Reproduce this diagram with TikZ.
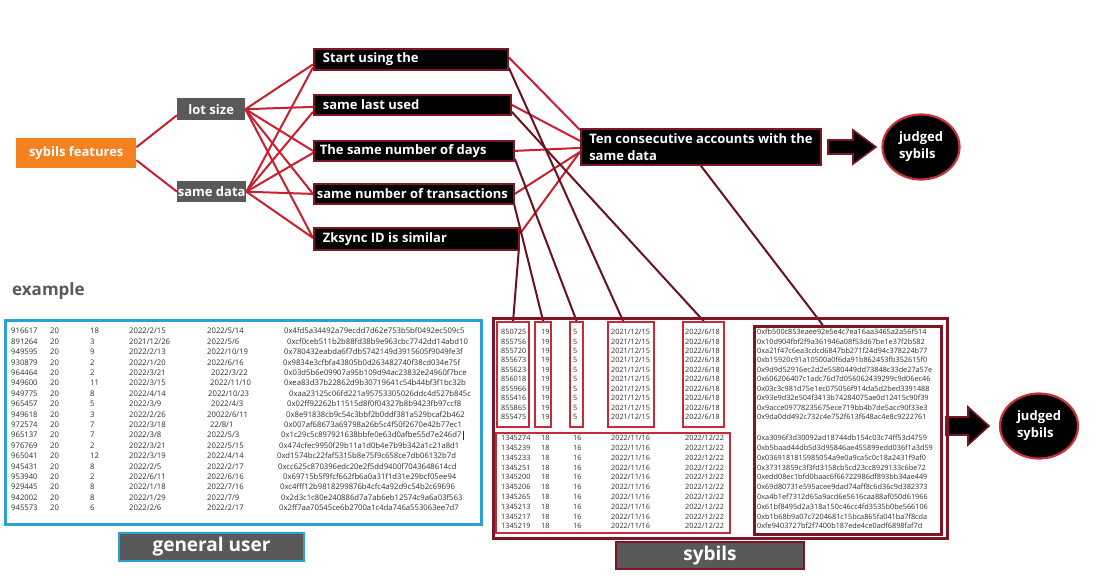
\documentclass[tikz,border=0pt]{standalone}
\usepackage{fontspec}
\setmainfont{Open Sans}
\usetikzlibrary{shapes.geometric}
\pgfdeclarelayer{back}
\pgfdeclarelayer{links}
\pgfsetlayers{back,links,main}
\definecolor{redline}{HTML}{C8202F}
\definecolor{darkline}{HTML}{6A1222}
\definecolor{boxred}{HTML}{7E1626}
\definecolor{subred}{HTML}{C42C3C}
\definecolor{circred}{HTML}{C8303C}
\definecolor{orangefill}{HTML}{F58220}
\definecolor{labgray}{HTML}{595959}
\definecolor{tblue}{HTML}{2CA0D8}
\definecolor{txtgray}{HTML}{2E2E2E}
\newcommand\lrow[8]{%
  \pgfmathsetmacro\yy{333.8+10.41*(#1-1)}%
  \node[ltxt] (la#1) at (11,\yy) {#2};
  \node[ltxt] (lb#1) at (50,\yy) {20};
  \node[ltxt] (lc#1) at (90,\yy) {#3};
  \node[ltxt] (ld#1) at (129,\yy) {#4};
  \node[ltxt] (le#1) at (#5,\yy) {#6};
  \node[ltxt] (lf#1) at (#7,\yy) {#8};
}
\newcommand\srow[8]{%
  \node[stxt] (sa#1) at (501,#2) {#3};
  \node[stxt] (sb#1) at (541,#2) {#4};
  \node[stxt] (sc#1) at (573,#2) {#5};
  \node[stxt] (sd#1) at (611,#2) {#6};
  \node[stxt] (se#1) at (685,#2) {#7};
  \node[stxt] (sf#1) at (757,#2) {#8};
}
\begin{document}
\begin{tikzpicture}[x=1pt,y=-1pt,
  lbl/.style={font=\bfseries\fontsize{13}{17}\selectfont, text=white},
  midbox/.style={lbl, fill=black, draw=boxred, line width=1.8pt, anchor=north west, inner xsep=9pt, inner ysep=0pt},
  graybox/.style={lbl, fill=labgray, anchor=north west, inner sep=0pt},
  judge/.style={lbl, ellipse, fill=black, draw=circred, line width=2.2pt, inner sep=0pt, align=left},
  ltxt/.style={font=\fontsize{7.7}{9}\selectfont, text=txtgray, anchor=base west, inner sep=0pt},
  stxt/.style={font=\fontsize{7.3}{9}\selectfont, text=txtgray, anchor=base west, inner sep=0pt},
  subbox/.style={draw=subred, line width=2.2pt, anchor=north west, inner sep=0pt},
  redl/.style={draw=redline, line width=2pt},
  darkl/.style={draw=darkline, line width=2pt},
  blockarrow/.style={fill=black, draw=boxred, line width=1.6pt, line join=miter}
]
\begin{pgfonlayer}{back}
  \fill[white] (0,0) rectangle (1107,579);
\end{pgfonlayer}
\useasboundingbox (0,0) rectangle (1107,579);

% ---------- top graph ----------
\node[graybox, fill=orangefill, minimum width=120pt, minimum height=30pt] (sf) at (16,138) {sybils features};
\node[graybox, minimum width=68pt, minimum height=22pt] (lot) at (177,98) {lot size};
\node[graybox, minimum width=69pt, minimum height=21pt] (same) at (177,181) {same data};

\node[midbox, minimum width=194pt, minimum height=21pt] (start) at (313,48) {\makebox[176pt][l]{Start using the}};
\node[midbox, minimum width=197pt, minimum height=20pt] (last) at (313,94) {\makebox[179pt][l]{same last used}};
\node[midbox, minimum width=200pt, minimum height=20pt, inner xsep=6pt] (days) at (313,140) {\makebox[188pt][l]{The same number of days}};
\node[midbox, minimum width=200pt, minimum height=20pt, inner xsep=3pt] (trans) at (313,183) {\makebox[194pt][l]{same number of transactions}};
\node[midbox, minimum width=205pt, minimum height=22pt] (zk) at (313,227) {\makebox[187pt][l]{Zksync ID is similar}};

\node[midbox, minimum width=240pt, minimum height=36pt, align=left, inner xsep=5pt] (ten) at (580,128) {Ten consecutive accounts with the\\same data};

\node[judge, minimum width=77pt, minimum height=65pt] (j1) at (921,147) {judged\\sybils};
\node[judge, minimum width=78pt, minimum height=65pt] (j2) at (1039,426) {judged\\sybils};

\filldraw[blockarrow] (828,140) -- (853,140) -- (853,130) -- (876,147) -- (853,164) -- (853,154) -- (828,154) -- cycle;
\filldraw[blockarrow] (946,417) -- (968,417) -- (968,407) -- (989,426) -- (968,445) -- (968,435) -- (946,435) -- cycle;

% ---------- example / general user table ----------
\node[font=\bfseries\fontsize{17}{20}\selectfont, text=labgray, anchor=base west, inner sep=0pt] (ex) at (12,295) {example};
\node[draw=tblue, line width=2.5pt, minimum width=476pt, minimum height=204pt, anchor=north west, inner sep=0pt] (gtab) at (4,319) {};

\lrow{1}{916617}{18}{2022/2/15}{207}{2022/5/14}{284}{0x4fd5a34492a79ecdd7d62e753b5bf0492ec509c5}
\lrow{2}{891264}{3}{2021/12/26}{207}{2022/5/6}{287}{0xcf0ceb511b2b88fd38b9e963cbc7742dd14abd10}
\lrow{3}{949595}{9}{2022/2/13}{207}{2022/10/19}{284}{0x780432eabda6f7db5742149d3915605f9049fe3f}
\lrow{4}{930879}{2}{2022/1/20}{207}{2022/6/16}{283}{0x9834e3cfbfa43805b0d263482740f38cd034e75f}
\lrow{5}{964464}{2}{2022/3/21}{211}{2022/3/22}{284}{0x03d5b6e09907a95b109d94ac23832e24960f7bce}
\lrow{6}{949600}{11}{2022/3/15}{210}{2022/11/10}{284}{0xea83d37b22862d9b30719641c54b44bf3f1bc32b}
\lrow{7}{949775}{8}{2022/4/14}{208}{2022/10/23}{289}{0xaa23125c06fd221a95753305026ddc4d527b845c}
\lrow{8}{965457}{5}{2022/3/9}{211}{2022/4/3}{287}{0x02ff92262b11515d8f0f04327b8b9423fb97ccf8}
\lrow{9}{949618}{3}{2022/2/26}{207}{20022/6/11}{286}{0x8e91838cb9c54c3bbf2b0ddf381a529bcaf2b462}
\lrow{10}{972574}{7}{2022/3/18}{210}{22/8/1}{284}{0x007af68673a69798a26b5c4f50f2670e42b77ec1}
\lrow{11}{965137}{7}{2022/3/8}{207}{2022/5/3}{281}{0x1c29c5c897921638bbfe0e63d0afbe55d7e246d7}
\lrow{12}{976769}{2}{2022/3/21}{207}{2022/5/15}{279}{0x474cfec9950f29b11a1d0b4e7b9b342a1c21a8d1}
\lrow{13}{965041}{12}{2022/3/19}{207}{2022/4/14}{277}{0xd1574bc22faf5315b8e75f9c658ce7db06132b7d}
\lrow{14}{945431}{8}{2022/2/5}{207}{2022/2/17}{278}{0xcc625c870396edc20e2f5dd9400f7043648614cd}
\lrow{15}{953940}{2}{2022/6/11}{207}{2022/6/16}{283}{0x69715b5f9fcf662fb6a0a31f1d31e29bcf05ee94}
\lrow{16}{929445}{8}{2022/1/18}{207}{2022/7/16}{280}{0xc4fff12b9818299876b4cfc4a92d9c54b2c69696}
\lrow{17}{942002}{8}{2022/1/29}{207}{2022/7/9}{281}{0x2d3c1c80e240886d7a7ab6eb12574c9a6a03f563}
\lrow{18}{945573}{6}{2022/2/6}{207}{2022/2/17}{279}{0x2ff7aa70545ce6b2700a1c4da746a553063ee7d7}
\draw[txtgray, line width=0.5pt] ([xshift=2pt,yshift=-2pt]lf11.base east) -- ([xshift=2pt,yshift=7pt]lf11.base east);

\node[graybox, draw=tblue, line width=2pt, minimum width=185pt, minimum height=28pt, font=\bfseries\fontsize{19}{21}\selectfont] (gu) at (118,532) {general user};

% ---------- sybils table ----------
\node[draw=boxred, line width=2.5pt, minimum width=454pt, minimum height=220pt, anchor=north west, inner sep=0pt] (sytab) at (492,317) {};
\node[subbox, minimum width=32pt, minimum height=105pt] (cid) at (496,321) {};
\node[subbox, minimum width=16pt, minimum height=105pt] (c19) at (534,321) {};
\node[subbox, minimum width=13pt, minimum height=105pt] (c5) at (569,321) {};
\node[subbox, minimum width=46pt, minimum height=105pt] (c21) at (607,321) {};
\node[subbox, minimum width=41pt, minimum height=105pt] (c22) at (682,321) {};
\node[subbox, minimum width=234pt, minimum height=100pt] (cbot) at (495,432) {};
\node[draw=boxred, line width=2.5pt, minimum width=187pt, minimum height=208pt, anchor=north west, inner sep=0pt] (hbox) at (753,325) {};

\srow{1}{334.6}{850725}{19}{5}{2021/12/15}{2022/6/18}{0xfb500c853eaee92e5e4c7ea16aa3465a2a56f514}
\srow{2}{344.05}{855756}{19}{5}{2021/12/15}{2022/6/18}{0x10d904fbf2f9a361946a08f53d67be1e37f2b582}
\srow{3}{353.5}{855720}{19}{5}{2021/12/15}{2022/6/18}{0xa21f47c6ea3cdcd6847bb271f24d94c378224b77}
\srow{4}{362.95}{855673}{19}{5}{2021/12/15}{2022/6/18}{0xb15920c91a10500a0f6da91b862453fb352615f0}
\srow{5}{372.4}{855623}{19}{5}{2021/12/15}{2022/6/18}{0x9d9d52916ec2d2e5580449dd73848c33de27a57e}
\srow{6}{381.85}{856018}{19}{5}{2021/12/15}{2022/6/18}{0x606206407c1adc76d7d056062439299c9d06ec46}
\srow{7}{391.3}{855966}{19}{5}{2021/12/15}{2022/6/18}{0x03c3c981d75e1ec075056f914da5d2bed3391488}
\srow{8}{400.75}{855416}{19}{5}{2021/12/15}{2022/6/18}{0x93e9d32e504f3413b74284075ae0d12415c90f39}
\srow{9}{410.2}{855865}{19}{5}{2021/12/15}{2022/6/18}{0x9acce09778235675ece719bb4b7de5acc90f33e3}
\srow{10}{419.65}{855475}{19}{5}{2021/12/15}{2022/6/18}{0x9da0dd492c732c4e752f613f648ac4e8c9222761}
\srow{11}{440.6}{1345274}{18}{16}{2022/11/16}{2022/12/22}{0xa3096f3d30092ad18744db154c03c74ff53d4759}
\srow{12}{450.4}{1345239}{18}{16}{2022/11/16}{2022/12/22}{0xb5baad44db5d3d95846ae455899edd036f1a3d59}
\srow{13}{460.2}{1345233}{18}{16}{2022/11/16}{2022/12/22}{0x0369181815985054a9e0a9ca5c0c18a2431f9af0}
\srow{14}{470.0}{1345251}{18}{16}{2022/11/16}{2022/12/22}{0x37313859c3f3fd3158cb5cd23cc8929133c6be72}
\srow{15}{479.8}{1345200}{18}{16}{2022/11/16}{2022/12/22}{0xedd08ec1bfd0baac6f66722986df893bb34ae449}
\srow{16}{489.6}{1345206}{18}{16}{2022/11/16}{2022/12/22}{0x69d80731e595acee9dad74aff8c6d36c9d382373}
\srow{17}{499.4}{1345265}{18}{16}{2022/11/16}{2022/12/22}{0xa4b1ef7312d65a9acd6e5616caa88af050d61966}
\srow{18}{509.2}{1345213}{18}{16}{2022/11/16}{2022/12/22}{0x61bf8495d2a318a150c46cc4fd3535b0be566106}
\srow{19}{519.0}{1345217}{18}{16}{2022/11/16}{2022/12/22}{0xb1b68b9a07c7204681c15bca865fa041ba7f8cda}
\srow{20}{528.8}{1345219}{18}{16}{2022/11/16}{2022/12/22}{0xfe9403727bf2f7400b187ede4ce0adf6898faf7d}

\node[graybox, draw=boxred, line width=2pt, minimum width=188pt, minimum height=27pt, font=\bfseries\fontsize{19}{21}\selectfont] (sylab) at (615,541) {sybils};

% ---------- connectors ----------
\begin{pgfonlayer}{links}
  \draw[redl] ([yshift=6pt]sf.east) -- ([yshift=-6pt]lot.west);
  \draw[redl] ([yshift=-7pt]sf.east) -- (same.west);
  \foreach \t/\s in {start/-5, last/-2, days/0, trans/0, zk/1}
    \draw[redl] (lot.east) -- ([yshift=\s pt]\t.west);
  \foreach \t/\s in {start/-8, last/-7, days/-2, trans/0, zk/1}
    \draw[redl] (same.east) -- ([yshift=\s pt]\t.west);
  \draw[redl] ([yshift=2pt]start.east) -- ([yshift=-2pt]ten.north west);
  \draw[redl] ([yshift=0pt]last.east) -- ([yshift=6pt]ten.west);
  \draw[redl] (days.east) -- ([yshift=-1pt]ten.west);
  \draw[redl] (trans.east) -- ([yshift=-5pt]ten.west);
  \draw[redl] ([yshift=5pt]zk.east) -- ([yshift=-5pt]ten.west);
  \draw[darkl] ([yshift=3pt]start.south east) -- ([xshift=-8pt]c21.north);
  \draw[darkl] ([yshift=4pt]last.south east) -- (c22.north);
  \draw[darkl] ([yshift=3pt]days.south east) -- (c5.north);
  \draw[darkl] ([xshift=-1pt,yshift=2pt]trans.south east) -- (c19.north);
  \draw[darkl] ([xshift=-1pt,yshift=1pt]zk.south east) -- (cid.north);
  \draw[darkl] (ten.south) -- ([xshift=-25pt]hbox.north);
\end{pgfonlayer}
\end{tikzpicture}
\end{document}
